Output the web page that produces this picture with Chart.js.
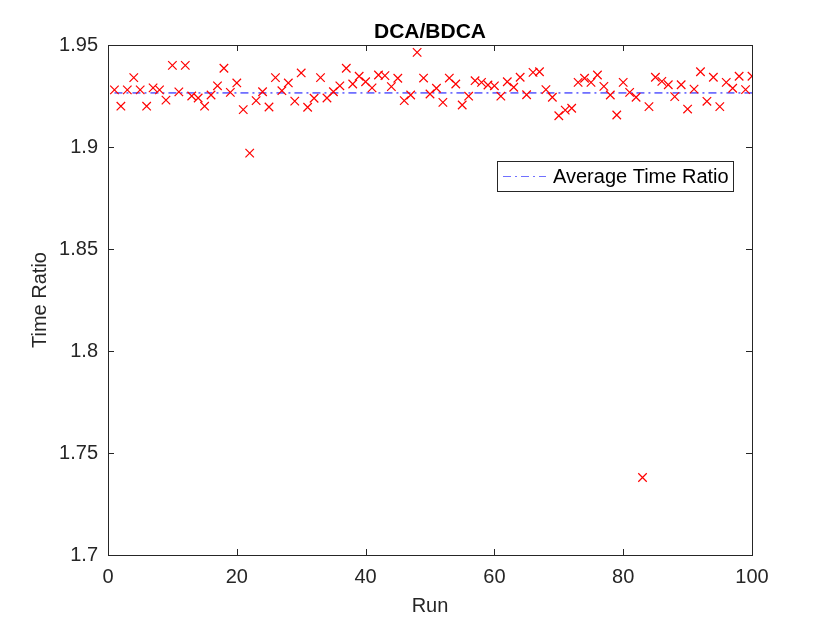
<!DOCTYPE html>
<html>
<head>
<meta charset="utf-8">
<script src="https://cdn.jsdelivr.net/npm/chart.js@4.4.1/dist/chart.umd.min.js"></script>
<style>
  html, body { margin: 0; padding: 0; background: #fff; }
  #wrap { width: 830px; height: 623px; }
</style>
</head>
<body>
<div id="wrap"><canvas id="ratioChart" width="830" height="623"></canvas></div>
<script>
// Runs 1..100 and the measured DCA/BDCA time ratio per run
const runs = [
  1, 2, 3, 4, 5, 6, 7, 8, 9, 10,
  11, 12, 13, 14, 15, 16, 17, 18, 19, 20,
  21, 22, 23, 24, 25, 26, 27, 28, 29, 30,
  31, 32, 33, 34, 35, 36, 37, 38, 39, 40,
  41, 42, 43, 44, 45, 46, 47, 48, 49, 50,
  51, 52, 53, 54, 55, 56, 57, 58, 59, 60,
  61, 62, 63, 64, 65, 66, 67, 68, 69, 70,
  71, 72, 73, 74, 75, 76, 77, 78, 79, 80,
  81, 82, 83, 84, 85, 86, 87, 88, 89, 90,
  91, 92, 93, 94, 95, 96, 97, 98, 99, 100
];
const timeRatio = [
  1.928, 1.920, 1.928, 1.934, 1.928, 1.920, 1.929, 1.928, 1.923, 1.940,
  1.927, 1.940, 1.925, 1.924, 1.920, 1.9255, 1.930, 1.9386, 1.9268, 1.9314,
  1.9183, 1.897, 1.9227, 1.9271, 1.9196, 1.934, 1.9276, 1.9314, 1.9225, 1.9363,
  1.9195, 1.9239, 1.934, 1.924, 1.9271, 1.930, 1.9386, 1.9309, 1.9347, 1.932,
  1.929, 1.9353, 1.935, 1.9296, 1.9337, 1.9227, 1.9255, 1.9464, 1.9338, 1.926,
  1.9288, 1.9219, 1.9338, 1.9309, 1.9206, 1.9249, 1.9325, 1.9317, 1.9304, 1.930,
  1.9249, 1.932, 1.9293, 1.9342, 1.9256, 1.9366, 1.9369, 1.9281, 1.9244, 1.9153,
  1.9181, 1.919, 1.9317, 1.9337, 1.9317, 1.9353, 1.9297, 1.9255, 1.9157, 1.9317,
  1.9268, 1.9244, 1.738, 1.9198, 1.9342, 1.9322, 1.9305, 1.9247, 1.9305, 1.9186,
  1.9284, 1.9369, 1.9224, 1.9342, 1.9198, 1.9317, 1.9288, 1.9347, 1.9281, 1.9347
];
const averageRatio = 1.9265;
const avgRuns = [1, 100];

const xTicks = [0, 20, 40, 60, 80, 100];
const yTicks = [1.7, 1.75, 1.8, 1.85, 1.9, 1.95];
const yTickLabels = ['1.7', '1.75', '1.8', '1.85', '1.9', '1.95'];

const AXIS_COLOR = '#262626';
const FONT = '"Liberation Sans", Arial, Helvetica, sans-serif';

// MATLAB-like box: frame on all sides with inward ticks, title and legend
const boxAxesPlugin = {
  id: 'boxAxes',
  afterDatasetsDraw(chart) {
    const { ctx, chartArea: a, scales } = chart;
    ctx.save();
    ctx.strokeStyle = AXIS_COLOR;
    ctx.lineWidth = 1;
    ctx.strokeRect(a.left + 0.5, a.top + 0.5, a.right - a.left, a.bottom - a.top);
    const len = 6;
    ctx.beginPath();
    xTicks.forEach(v => {
      const px = Math.round(scales.x.getPixelForValue(v)) + 0.5;
      ctx.moveTo(px, a.bottom); ctx.lineTo(px, a.bottom - len);
      ctx.moveTo(px, a.top); ctx.lineTo(px, a.top + len);
    });
    yTicks.forEach(v => {
      const py = Math.round(scales.y.getPixelForValue(v)) + 0.5;
      ctx.moveTo(a.left, py); ctx.lineTo(a.left + len, py);
      ctx.moveTo(a.right, py); ctx.lineTo(a.right - len, py);
    });
    ctx.stroke();

    // title
    ctx.fillStyle = '#000';
    ctx.font = 'bold 21px ' + FONT;
    ctx.textAlign = 'center';
    ctx.textBaseline = 'middle';
    ctx.fillText('DCA/BDCA', (a.left + a.right) / 2, 32);

    // legend box inside the axes, upper right
    const lx = 497, ly = 161, lw = 236, lh = 30;
    ctx.fillStyle = '#fff';
    ctx.fillRect(lx, ly, lw, lh);
    ctx.strokeStyle = AXIS_COLOR;
    ctx.strokeRect(lx + 0.5, ly + 0.5, lw, lh);
    ctx.strokeStyle = '#7070ff';
    ctx.setLineDash([8, 4, 2, 4]);
    ctx.beginPath();
    ctx.moveTo(lx + 6, ly + lh / 2 + 0.5);
    ctx.lineTo(lx + 49, ly + lh / 2 + 0.5);
    ctx.stroke();
    ctx.setLineDash([]);
    ctx.fillStyle = '#000';
    ctx.font = '20px ' + FONT;
    ctx.textAlign = 'left';
    ctx.fillText('Average Time Ratio', lx + 56, ly + lh / 2 + 1);
    ctx.restore();
  }
};

const ctx = document.getElementById('ratioChart').getContext('2d');
const ratioChart = new Chart(ctx, {
  type: 'scatter',
  data: {
    datasets: [
      {
        label: 'Time Ratio',
        data: runs.map((r, i) => ({ x: r, y: timeRatio[i] })),
        pointStyle: 'crossRot',
        pointRadius: 6,
        pointHoverRadius: 6,
        borderColor: '#ff0000',
        backgroundColor: '#ff0000',
        pointBorderColor: '#ff0000',
        pointBackgroundColor: '#ff0000',
        pointHoverBorderColor: '#ff0000',
        pointHoverBackgroundColor: '#ff0000',
        borderWidth: 1.2,
        pointBorderWidth: 1.2,
        showLine: false
      },
      {
        label: 'Average Time Ratio',
        data: avgRuns.map(r => ({ x: r, y: averageRatio })),
        showLine: true,
        borderColor: '#0000ff',
        borderWidth: 1,
        borderDash: [8, 4, 2, 4],
        pointRadius: 0,
        pointHoverRadius: 0,
        fill: false
      }
    ]
  },
  options: {
    responsive: false,
    animation: false,
    events: [],
    layout: { padding: { top: 45, right: 78, left: 0, bottom: 0 } },
    plugins: {
      legend: { display: false },
      title: { display: false },
      tooltip: { enabled: false }
    },
    scales: {
      x: {
        type: 'linear',
        min: 0,
        max: 100,
        afterBuildTicks: s => { s.ticks = xTicks.map(v => ({ value: v })); },
        afterFit: s => { s.height = 68; },
        grid: { display: false, drawTicks: false },
        border: { display: false },
        ticks: {
          color: AXIS_COLOR,
          font: { family: FONT, size: 20 },
          padding: 10,
          maxRotation: 0
        },
        title: {
          display: true,
          text: 'Run',
          color: AXIS_COLOR,
          font: { family: FONT, size: 20 },
          padding: { top: 0, bottom: 5 }
        }
      },
      y: {
        type: 'linear',
        min: 1.7,
        max: 1.95,
        afterBuildTicks: s => { s.ticks = yTicks.map(v => ({ value: v })); },
        afterFit: s => { s.width = 108; },
        grid: { display: false, drawTicks: false },
        border: { display: false },
        ticks: {
          color: AXIS_COLOR,
          font: { family: FONT, size: 20 },
          padding: 10,
          callback: (v) => {
            const i = yTicks.findIndex(t => Math.abs(t - v) < 1e-9);
            return i >= 0 ? yTickLabels[i] : '';
          }
        },
        title: {
          display: true,
          text: 'Time Ratio',
          color: AXIS_COLOR,
          font: { family: FONT, size: 20 },
          padding: { top: 28, bottom: 0 }
        }
      }
    }
  },
  plugins: [boxAxesPlugin]
});
</script>
</body>
</html>
